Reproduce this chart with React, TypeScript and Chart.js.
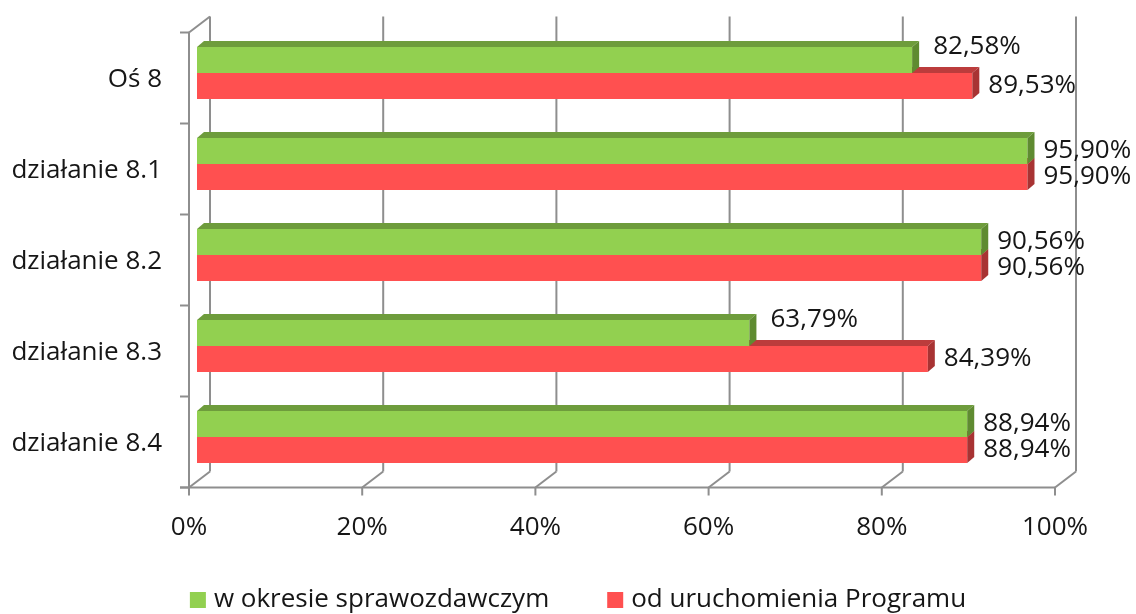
import React, { useEffect, useRef } from "react";
import { Chart, registerables } from "chart.js";

Chart.register(...registerables);

const categories = ["Oś 8", "działanie 8.1", "działanie 8.2", "działanie 8.3", "działanie 8.4"];
const seriesNames = ["w okresie sprawozdawczym", "od uruchomienia Programu"];
const periodValues = [82.58, 95.9, 90.56, 63.79, 88.94];
const totalValues = [89.53, 95.9, 90.56, 84.39, 88.94];
const xTicks = [0, 20, 40, 60, 80, 100];

const GREEN = "#92D050";
const RED = "#FF5050";
const SHADES = [
  { top: "#6E9C3C", side: "#5F8B31" },
  { top: "#BC3C3C", side: "#A83333" },
];
const GRID = "#8E8E8E";
const TEXT = "#161616";
const FONT = { family: "'Open Sans', sans-serif", size: 26 };

// 3D offsets (relative to the bar plane)
const BAR_D = { dx: 7, dy: -6 };
const FRONT = { dx: -8, dy: 5 };
const BACK = { dx: 13, dy: -11 };

const fmt = (v: number) => v.toFixed(2).replace(".", ",") + "%";

const frame3d = {
  id: "frame3d",
  beforeDatasetsDraw(chart: any) {
    const { ctx, chartArea: a, scales } = chart;
    const x = scales.x;
    const y = scales.y;
    const line = (x1: number, y1: number, x2: number, y2: number) => {
      ctx.beginPath();
      ctx.moveTo(x1, y1);
      ctx.lineTo(x2, y2);
      ctx.stroke();
    };
    ctx.save();
    ctx.strokeStyle = GRID;
    ctx.lineWidth = 2;
    const fTop = a.top + FRONT.dy;
    const fBot = a.bottom + FRONT.dy;
    const bTop = a.top + BACK.dy;
    const bBot = a.bottom + BACK.dy;
    xTicks.forEach((v) => {
      const px = x.getPixelForValue(v);
      const bx = px + BACK.dx;
      const fx = px + FRONT.dx;
      line(bx, bTop, bx, bBot);
      line(bx, bBot, fx, fBot);
      line(fx, fBot, fx, fBot + 8);
    });
    const fx0 = x.getPixelForValue(0) + FRONT.dx;
    const bx0 = x.getPixelForValue(0) + BACK.dx;
    const fx100 = x.getPixelForValue(100) + FRONT.dx;
    line(fx0 - 9, fBot, fx100, fBot);
    line(fx0, fTop, fx0, fBot);
    line(fx0, fTop, bx0, bTop);
    for (let i = 0; i <= categories.length; i++) {
      const yy = y.getPixelForValue(i - 0.5) + FRONT.dy;
      line(fx0 - 9, yy, fx0, yy);
    }
    ctx.restore();
  },
  afterDatasetDraw(chart: any, args: any) {
    const { ctx } = chart;
    const shade = SHADES[args.index];
    const poly = (pts: number[][], color: string) => {
      ctx.beginPath();
      ctx.moveTo(pts[0][0], pts[0][1]);
      for (let k = 1; k < pts.length; k++) ctx.lineTo(pts[k][0], pts[k][1]);
      ctx.closePath();
      ctx.fillStyle = color;
      ctx.fill();
    };
    ctx.save();
    args.meta.data.forEach((bar: any) => {
      const { x, y, base, height } = bar.getProps(["x", "y", "base", "height"], true);
      const top = y - height / 2;
      const bot = y + height / 2;
      poly(
        [
          [base, top],
          [base + BAR_D.dx, top + BAR_D.dy],
          [x + BAR_D.dx, top + BAR_D.dy],
          [x, top],
        ],
        shade.top
      );
      poly(
        [
          [x, top],
          [x + BAR_D.dx, top + BAR_D.dy],
          [x + BAR_D.dx, bot + BAR_D.dy],
          [x, bot],
        ],
        shade.side
      );
    });
    ctx.restore();
  },
  afterDatasetsDraw(chart: any) {
    const { ctx } = chart;
    ctx.save();
    ctx.font = `${FONT.size}px ${FONT.family}`;
    ctx.fillStyle = TEXT;
    ctx.textAlign = "left";
    ctx.textBaseline = "middle";
    chart.data.datasets.forEach((ds: any, di: number) => {
      const meta = chart.getDatasetMeta(di);
      meta.data.forEach((bar: any, i: number) => {
        const { x, y } = bar.getProps(["x", "y"], true);
        let lx = x + BAR_D.dx + 9;
        let ly = y;
        if (di === 0 && periodValues[i] < totalValues[i]) {
          lx += 5;
          ly -= 13;
        }
        ctx.fillText(fmt(ds.data[i]), lx, ly);
      });
    });
    ctx.restore();
  },
  afterDraw(chart: any) {
    // legend (centred below the plot)
    const { ctx } = chart;
    ctx.save();
    ctx.font = `${FONT.size}px ${FONT.family}`;
    ctx.textBaseline = "middle";
    ctx.textAlign = "left";
    const box = 16;
    const gapBox = 8;
    const gapItem = 58;
    const colors = [GREEN, RED];
    const widths = seriesNames.map((s) => box + gapBox + ctx.measureText(s).width);
    const total = widths.reduce((s, w) => s + w, 0) + gapItem * (widths.length - 1);
    const centre = (chart.chartArea.left + chart.chartArea.right) / 2 - 52;
    let xx = centre - total / 2;
    const yy = chart.height - 14;
    seriesNames.forEach((s, i) => {
      ctx.fillStyle = colors[i];
      ctx.fillRect(xx, yy - box / 2, box, box);
      ctx.fillStyle = TEXT;
      ctx.fillText(s, xx + box + gapBox, yy);
      xx += widths[i] + gapItem;
    });
    ctx.restore();
  },
};

export default function App() {
  const ref = useRef<HTMLCanvasElement>(null);
  useEffect(() => {
    document.body.style.margin = "0";
    const chart = new Chart(ref.current as HTMLCanvasElement, {
      type: "bar",
      data: {
        labels: categories,
        datasets: [
          { label: seriesNames[0], data: periodValues, backgroundColor: GREEN, borderWidth: 0 },
          { label: seriesNames[1], data: totalValues, backgroundColor: RED, borderWidth: 0 },
        ],
      },
      options: {
        indexAxis: "y",
        animation: false,
        responsive: true,
        maintainAspectRatio: false,
        layout: { padding: { left: 0, right: 73, top: 27.5, bottom: 0 } },
        datasets: { bar: { barPercentage: 1, categoryPercentage: 0.57 } },
        scales: {
          x: {
            min: 0,
            max: 100,
            grid: { display: false, drawTicks: false },
            border: { display: false },
            ticks: {
              stepSize: 20,
              callback: (v: any) => v + "%",
              font: FONT,
              color: TEXT,
              padding: 29,
              labelOffset: -8,
              maxRotation: 0,
            },
            afterFit: (s: any) => {
              s.height = 131.5;
              s.paddingLeft = 0;
              s.paddingRight = 0;
            },
          },
          y: {
            grid: { display: false, drawTicks: false },
            border: { display: false },
            ticks: { font: FONT, color: TEXT, padding: 35, labelOffset: 7 },
            afterFit: (s: any) => {
              s.width = 197;
              s.paddingTop = 0;
              s.paddingBottom = 0;
            },
          },
        },
        plugins: {
          legend: { display: false },
          tooltip: { enabled: false },
        },
      } as any,
      plugins: [frame3d],
    });
    return () => chart.destroy();
  }, []);
  return (
    <div style={{ position: "fixed", left: 0, top: 0, width: 1136, height: 614, background: "#fff" }}>
      <canvas ref={ref} />
    </div>
  );
}
